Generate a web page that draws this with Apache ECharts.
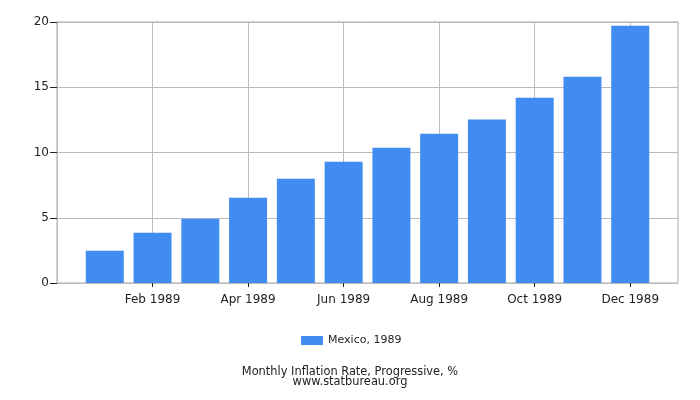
<!DOCTYPE html>
<html>
<head>
<meta charset="utf-8">
<script src="https://cdn.jsdelivr.net/npm/echarts@6.0.0/dist/echarts.min.js"></script>
<style>
  html, body { margin: 0; padding: 0; background: #fff; }
  #chart { width: 700px; height: 400px; }
</style>
</head>
<body>
<div id="chart"></div>
<script>
// Mexico, monthly inflation rate (progressive), 1989
const year = 1989;
const monthNames = ["Jan", "Feb", "Mar", "Apr", "May", "Jun", "Jul", "Aug", "Sep", "Oct", "Nov", "Dec"];
const inflation = [2.48, 3.86, 4.93, 6.54, 7.99, 9.30, 10.37, 11.44, 12.52, 14.20, 15.81, 19.72];
const labelMonths = [1, 3, 5, 7, 9, 11]; // Feb, Apr, Jun, Aug, Oct, Dec
const yTicks = [0, 5, 10, 15, 20];

// x is the month index (Jan = 0), axis padded by one month on each side
const seriesData = inflation.map((v, i) => [i, v]);

const chart = echarts.init(document.getElementById("chart"));

chart.setOption({
  animation: false,
  textStyle: { fontFamily: "DejaVu Sans" },
  grid: { left: 57, right: 22, top: 22, bottom: 117, containLabel: false,
    show: true, borderColor: "#aaa", borderWidth: 1 },
  title: {
    text: "Monthly Inflation Rate, Progressive, %\nwww.statbureau.org",
    left: 350,
    top: 367,
    padding: 0,
    textAlign: "center",
    textStyle: { fontSize: 11.4, lineHeight: 10, fontWeight: "normal", color: "#222", fontFamily: "DejaVu Sans" },
  },
  legend: {
    data: ["Mexico, " + year],
    left: 296,
    top: 330,
    icon: "rect",
    itemWidth: 22,
    itemHeight: 9,
    itemGap: 5,
    textStyle: { fontSize: 11, color: "#222", fontFamily: "DejaVu Sans" },
  },
  xAxis: {
    type: "value",
    min: -1,
    max: 12,
    axisLine: { onZero: false, lineStyle: { color: "#bbb" } },
    axisTick: { show: true, length: 4, lineStyle: { color: "#222" }, customValues: labelMonths },
    axisLabel: {
      customValues: labelMonths,
      fontSize: 12,
      color: "#222",
      margin: 11,
      formatter: (val) => monthNames[val] + " " + year,
    },
    splitLine: { show: true, lineStyle: { color: "#bbb" } },
  },
  yAxis: {
    type: "value",
    min: yTicks[0],
    max: yTicks[yTicks.length - 1],
    interval: 5,
    axisLine: { show: true, onZero: false, lineStyle: { color: "#bbb" } },
    axisTick: { show: true, length: 7, lineStyle: { color: "#222" } },
    axisLabel: { fontSize: 12, color: "#222", margin: 8 },
    splitLine: { show: true, lineStyle: { color: "#bbb" } },
  },
  series: [
    {
      name: "Mexico, " + year,
      type: "bar",
      data: seriesData,
      barWidth: 38,
      itemStyle: { color: "#418cf0" },
    },
  ],
});
</script>
</body>
</html>
